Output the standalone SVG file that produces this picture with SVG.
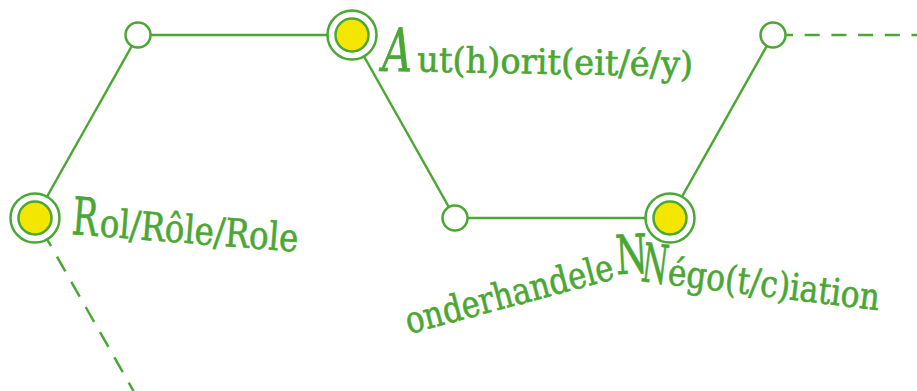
<svg xmlns="http://www.w3.org/2000/svg" width="917" height="391" viewBox="0 0 917 391">
<style>
.edge{stroke:#4ba733;stroke-width:2.5;fill:none}
.dash{stroke:#4ba733;stroke-width:2.5;fill:none}
.ring{stroke:#4ba733;stroke-width:2.5;fill:#ffffff}
.core{stroke:#4ba733;stroke-width:2.5;fill:#f4e600}
.stop{stroke:#4ba733;stroke-width:2.5;fill:#ffffff}
.lbl{fill:#4ba733;stroke:#4ba733;stroke-width:0.6;font-family:"DejaVu Serif","Liberation Serif",serif;font-stretch:condensed}
</style>
<rect width="917" height="391" fill="#ffffff"/>
<g id="connectors">
<line class="edge" x1="35" y1="218" x2="138" y2="35"/>
<line class="edge" x1="138" y1="35" x2="352" y2="35"/>
<line class="edge" x1="352" y1="35" x2="455" y2="218"/>
<line class="edge" x1="455" y1="218" x2="670" y2="218"/>
<line class="edge" x1="670" y1="218" x2="773" y2="35"/>
<line class="dash" x1="778" y1="35" x2="917" y2="35" stroke-dasharray="15 11.7"/>
<line class="dash" x1="42.6" y1="231.4" x2="133.5" y2="391" stroke-dasharray="17 12"/>
</g>
<g id="node-role">
<circle class="ring" cx="35" cy="218" r="24.5"/>
<circle class="core" cx="35" cy="218" r="16.5"/>
<g transform="translate(71,234) rotate(4.5)">
<text class="lbl" x="0" y="0" font-size="52" textLength="26" lengthAdjust="spacingAndGlyphs">R</text>
<text class="lbl" x="28" y="0" font-size="39" textLength="199" lengthAdjust="spacingAndGlyphs">ol/Rôle/Role</text>
</g>
</g>
<g id="node-b">
<circle class="stop" cx="138" cy="35" r="12.5"/>
</g>
<g id="node-authority">
<circle class="ring" cx="352" cy="35" r="24.5"/>
<circle class="core" cx="352" cy="35" r="16.5"/>
<g transform="translate(382,71) rotate(1)">
<text class="lbl" x="0" y="0" font-size="60" font-style="italic" textLength="30" lengthAdjust="spacingAndGlyphs">A</text>
<text class="lbl" x="35" y="0" font-size="35" textLength="276" lengthAdjust="spacingAndGlyphs">ut(h)orit(eit/é/y)</text>
</g>
</g>
<g id="node-d">
<circle class="stop" cx="455" cy="218" r="12.5"/>
</g>
<g id="node-negotiation">
<circle class="ring" cx="670" cy="218" r="24.5"/>
<circle class="core" cx="670" cy="218" r="16.5"/>
<g transform="translate(409,334) rotate(-15)">
<text class="lbl" x="0" y="0" font-size="37" textLength="214" lengthAdjust="spacingAndGlyphs">onderhandele</text>
<text class="lbl" x="216" y="-4" font-size="54" textLength="32" lengthAdjust="spacingAndGlyphs" transform="rotate(12,216,-4)">N</text>
</g>
<g transform="translate(640,281) rotate(7)">
<text class="lbl" x="0" y="0" font-size="54" textLength="26" lengthAdjust="spacingAndGlyphs">N</text>
<text class="lbl" x="27" y="0" font-size="37" textLength="213" lengthAdjust="spacingAndGlyphs">égo(t/c)iation</text>
</g>
</g>
<g id="node-f">
<circle class="stop" cx="773" cy="35" r="12.5"/>
</g>
</svg>
